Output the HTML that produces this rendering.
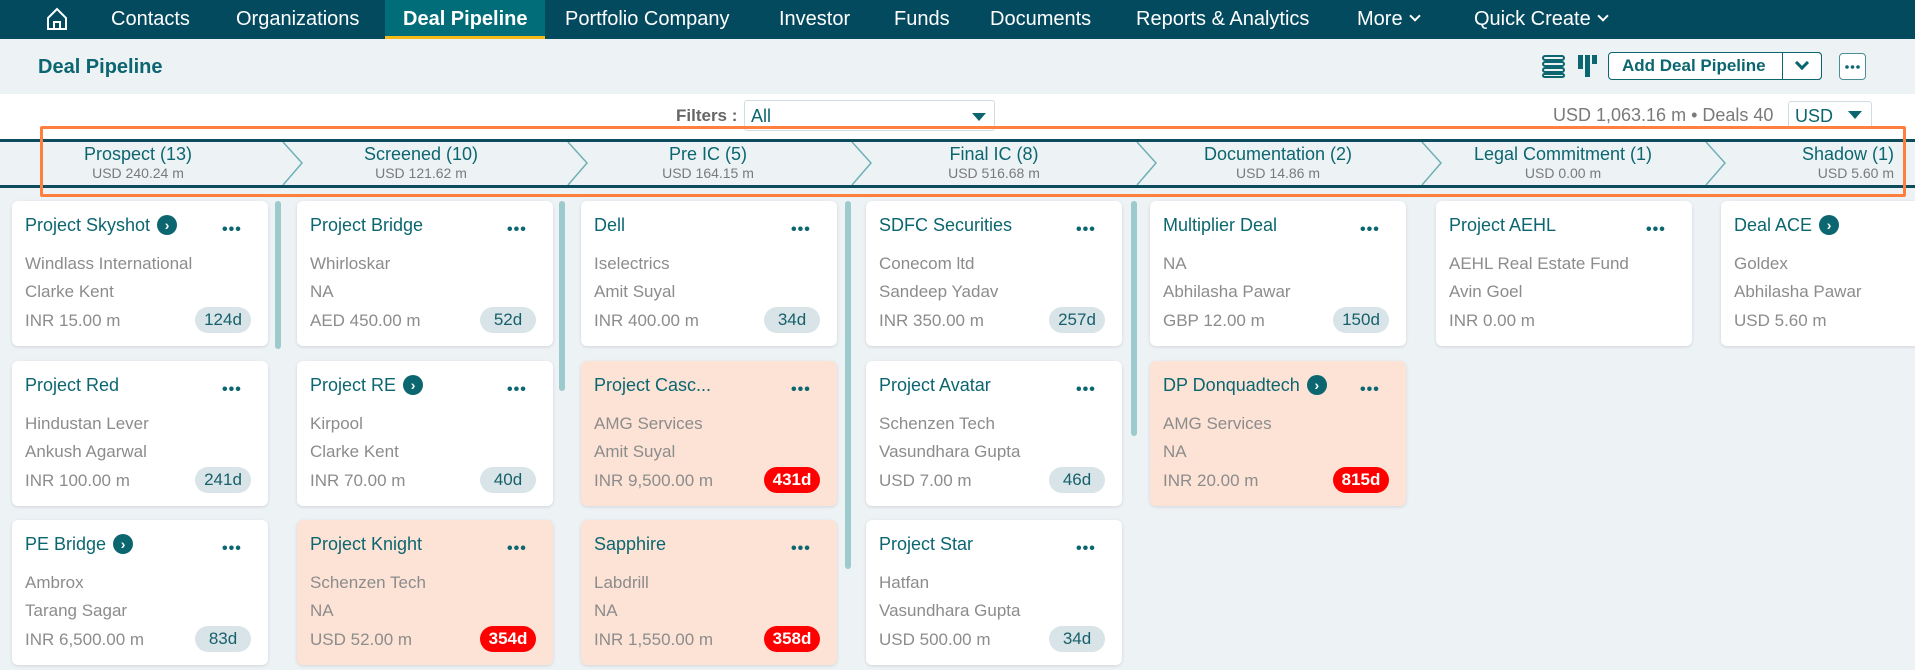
<!DOCTYPE html>
<html><head><meta charset="utf-8">
<style>
*{box-sizing:border-box;margin:0;padding:0}
body{width:1915px;height:670px;overflow:hidden;background:#edf2f5;font-family:"Liberation Sans",sans-serif;position:relative}
.a{position:absolute;white-space:nowrap}
.nav{left:0;top:0;width:1915px;height:39px;background:#034a5f}
.ni{top:8px;color:#fff;font-size:20px}
.sub{left:0;top:39px;width:1915px;height:55px;background:#edf2f5}
.wh{left:0;top:94px;width:1915px;height:45px;background:#fff}
.bar{left:0;top:139px;width:1915px;height:49px;background:#edf2f5;border-top:3px solid #0d4c5c;border-bottom:3px solid #0d4c5c}
.st{top:144px;text-align:center;width:280px}
.st b{display:block;font-weight:normal;color:#0b6670;font-size:18px;line-height:20px}
.st i{display:block;font-style:normal;color:#7a7a7a;font-size:14px;line-height:18px}
.card{position:absolute;width:256px;height:145px;background:#fff;border-radius:6px;box-shadow:0 1px 3px rgba(0,0,0,.12);overflow:hidden}
.card.hl{background:#fde3d6}
.card .t{position:absolute;left:13px;top:14px;font-size:18px;color:#0b6670;white-space:nowrap}
.go{display:inline-block;width:20px;height:20px;border-radius:50%;background:#0b6670;color:#fff;font-size:14px;line-height:20px;text-align:center;vertical-align:1px;margin-left:7px;font-weight:bold}
.card .d{position:absolute;left:210px;top:20px;color:#0b6670;font-size:16px;letter-spacing:1px;font-weight:bold}
.card .l{position:absolute;left:13px;font-size:17px;color:#8c8c8c;white-space:nowrap}
.bd{position:absolute;left:183px;top:106px;width:56px;height:26px;border-radius:13px;background:#d8e4e8;color:#17606b;font-size:17px;text-align:center;line-height:26px}
.bd.r{background:#f00;color:#fff;font-weight:bold}
.sb{position:absolute;width:6px;border-radius:3px;background:#9ccacd}
.chev{display:inline-block;width:8px;height:8px;border-right:2.5px solid #fff;border-bottom:2.5px solid #fff;transform:rotate(45deg);vertical-align:5px;margin-left:8px}
</style></head><body>
<div class="a nav"></div>
<div class="a" style="left:385px;top:0;width:160px;height:39px;background:#006d78;border-bottom:3px solid #f6b91a"></div>
<svg class="a" style="left:46px;top:7px" width="22" height="24" viewBox="0 0 22 24"><path d="M2 11 L11 2 L20 11 L20 22 L2 22 Z" fill="none" stroke="#fff" stroke-width="2"/><path d="M8 22 V15 H14 V22" fill="none" stroke="#fff" stroke-width="2"/></svg>
<div class="a ni" style="left:111px">Contacts</div>
<div class="a ni" style="left:236px">Organizations</div>
<div class="a ni" style="left:403px;font-weight:bold">Deal Pipeline</div>
<div class="a ni" style="left:565px">Portfolio Company</div>
<div class="a ni" style="left:779px">Investor</div>
<div class="a ni" style="left:894px">Funds</div>
<div class="a ni" style="left:990px">Documents</div>
<div class="a ni" style="left:1136px">Reports &amp; Analytics</div>
<div class="a ni" style="left:1357px">More<span class="chev"></span></div>
<div class="a ni" style="left:1474px">Quick Create<span class="chev"></span></div>

<div class="a sub"></div>
<div class="a" style="left:38px;top:56px;font-size:20px;font-weight:bold;color:#0b6670">Deal Pipeline</div>
<svg class="a" style="left:1542px;top:54px" width="24" height="24"><g fill="none" stroke="#0b6670" stroke-width="2"><rect x="1" y="2" width="21" height="4" rx="2"/><rect x="1" y="8" width="21" height="4" rx="2"/><rect x="1" y="14" width="21" height="4" rx="2"/><rect x="1" y="20" width="21" height="3" rx="1.5"/></g></svg>
<svg class="a" style="left:1578px;top:54px" width="22" height="24"><g fill="#0b6670"><rect x="0" y="1" width="5" height="14"/><rect x="7" y="1" width="5" height="22"/><rect x="14" y="1" width="5" height="9"/></g></svg>
<div class="a" style="left:1608px;top:52px;width:214px;height:28px;border:1.5px solid #0b6670;border-radius:4px;background:#fff;font-weight:bold;color:#0b6670;font-size:17px;line-height:25px;padding-left:13px">Add Deal Pipeline</div>
<div class="a" style="left:1782px;top:52px;width:40px;height:28px;border:1.5px solid #0b6670;border-radius:0 4px 4px 0;background:#fff"></div>
<div class="a" style="left:1797px;top:58px;width:10px;height:10px;border-right:3px solid #0b6670;border-bottom:3px solid #0b6670;transform:rotate(45deg)"></div>
<div class="a" style="left:1839px;top:53px;width:27px;height:27px;border:1.5px solid #4a8f97;border-radius:4px;background:#fff"></div>
<svg class="a" style="left:1839px;top:53px" width="27" height="27"><g fill="#0b6670"><circle cx="8" cy="14" r="1.8"/><circle cx="13.5" cy="14" r="1.8"/><circle cx="19" cy="14" r="1.8"/></g></svg>

<div class="a wh"></div>
<div class="a" style="left:676px;top:106px;font-size:17px;font-weight:bold;color:#666">Filters :</div>
<div class="a" style="left:744px;top:100px;width:251px;height:31px;border:1px solid #cfdde2;border-radius:3px;background:#fff;font-size:18px;color:#0b6670;padding:5px 0 0 6px">All</div>
<div class="a" style="left:972px;top:113px;width:0;height:0;border-left:7px solid transparent;border-right:7px solid transparent;border-top:8px solid #0b6670"></div>
<div class="a" style="left:1553px;top:105px;font-size:18px;color:#7a7a7a">USD 1,063.16 m • Deals 40</div>
<div class="a" style="left:1788px;top:101px;width:84px;height:28px;border:1px solid #cfdde2;border-radius:3px;background:#fff;font-size:18px;color:#0b6670;padding:4px 0 0 6px">USD</div>
<div class="a" style="left:1848px;top:111px;width:0;height:0;border-left:7px solid transparent;border-right:7px solid transparent;border-top:8px solid #0b6670"></div>

<div class="a bar"></div>
<svg class="a" style="left:0;top:142px" width="1915" height="43"><g fill="none" stroke="#6fb0b6" stroke-width="1.5">
<path d="M283 0 L302 21 L283 43"/><path d="M568 0 L587 21 L568 43"/><path d="M852 0 L871 21 L852 43"/><path d="M1137 0 L1156 21 L1137 43"/><path d="M1422 0 L1441 21 L1422 43"/><path d="M1706 0 L1725 21 L1706 43"/></g></svg>
<div class="a st" style="left:-2px"><b>Prospect (13)</b><i>USD 240.24 m</i></div>
<div class="a st" style="left:281px"><b>Screened (10)</b><i>USD 121.62 m</i></div>
<div class="a st" style="left:568px"><b>Pre IC (5)</b><i>USD 164.15 m</i></div>
<div class="a st" style="left:854px"><b>Final IC (8)</b><i>USD 516.68 m</i></div>
<div class="a st" style="left:1138px"><b>Documentation (2)</b><i>USD 14.86 m</i></div>
<div class="a st" style="left:1423px"><b>Legal Commitment (1)</b><i>USD 0.00 m</i></div>
<div class="a st" style="left:1614px;text-align:right;width:280px"><b>Shadow (1)</b><i>USD 5.60 m</i></div>
<div class="a" style="left:40px;top:126px;width:1866px;height:71px;border:3px solid #ff7f3f;border-radius:2px"></div>

<div class="sb" style="left:275px;top:201px;height:148px"></div>
<div class="sb" style="left:559px;top:201px;height:190px"></div>
<div class="sb" style="left:845px;top:201px;height:368px"></div>
<div class="sb" style="left:1131px;top:201px;height:235px"></div>

<!-- col0 -->
<div class="card" style="left:12px;top:201px"><div class="t">Project Skyshot<span class="go">›</span></div><div class="d">•••</div><div class="l" style="top:53px">Windlass International</div><div class="l" style="top:81px">Clarke Kent</div><div class="l" style="top:110px">INR 15.00 m</div><div class="bd">124d</div></div>
<div class="card" style="left:12px;top:361px"><div class="t">Project Red</div><div class="d">•••</div><div class="l" style="top:53px">Hindustan Lever</div><div class="l" style="top:81px">Ankush Agarwal</div><div class="l" style="top:110px">INR 100.00 m</div><div class="bd">241d</div></div>
<div class="card" style="left:12px;top:520px"><div class="t">PE Bridge<span class="go">›</span></div><div class="d">•••</div><div class="l" style="top:53px">Ambrox</div><div class="l" style="top:81px">Tarang Sagar</div><div class="l" style="top:110px">INR 6,500.00 m</div><div class="bd">83d</div></div>
<!-- col1 -->
<div class="card" style="left:297px;top:201px"><div class="t">Project Bridge</div><div class="d">•••</div><div class="l" style="top:53px">Whirloskar</div><div class="l" style="top:81px">NA</div><div class="l" style="top:110px">AED 450.00 m</div><div class="bd">52d</div></div>
<div class="card" style="left:297px;top:361px"><div class="t">Project RE<span class="go">›</span></div><div class="d">•••</div><div class="l" style="top:53px">Kirpool</div><div class="l" style="top:81px">Clarke Kent</div><div class="l" style="top:110px">INR 70.00 m</div><div class="bd">40d</div></div>
<div class="card hl" style="left:297px;top:520px"><div class="t">Project Knight</div><div class="d">•••</div><div class="l" style="top:53px">Schenzen Tech</div><div class="l" style="top:81px">NA</div><div class="l" style="top:110px">USD 52.00 m</div><div class="bd r">354d</div></div>
<!-- col2 -->
<div class="card" style="left:581px;top:201px"><div class="t">Dell</div><div class="d">•••</div><div class="l" style="top:53px">Iselectrics</div><div class="l" style="top:81px">Amit Suyal</div><div class="l" style="top:110px">INR 400.00 m</div><div class="bd">34d</div></div>
<div class="card hl" style="left:581px;top:361px"><div class="t">Project Casc...</div><div class="d">•••</div><div class="l" style="top:53px">AMG Services</div><div class="l" style="top:81px">Amit Suyal</div><div class="l" style="top:110px">INR 9,500.00 m</div><div class="bd r">431d</div></div>
<div class="card hl" style="left:581px;top:520px"><div class="t">Sapphire</div><div class="d">•••</div><div class="l" style="top:53px">Labdrill</div><div class="l" style="top:81px">NA</div><div class="l" style="top:110px">INR 1,550.00 m</div><div class="bd r">358d</div></div>
<!-- col3 -->
<div class="card" style="left:866px;top:201px"><div class="t">SDFC Securities</div><div class="d">•••</div><div class="l" style="top:53px">Conecom ltd</div><div class="l" style="top:81px">Sandeep Yadav</div><div class="l" style="top:110px">INR 350.00 m</div><div class="bd">257d</div></div>
<div class="card" style="left:866px;top:361px"><div class="t">Project Avatar</div><div class="d">•••</div><div class="l" style="top:53px">Schenzen Tech</div><div class="l" style="top:81px">Vasundhara Gupta</div><div class="l" style="top:110px">USD 7.00 m</div><div class="bd">46d</div></div>
<div class="card" style="left:866px;top:520px"><div class="t">Project Star</div><div class="d">•••</div><div class="l" style="top:53px">Hatfan</div><div class="l" style="top:81px">Vasundhara Gupta</div><div class="l" style="top:110px">USD 500.00 m</div><div class="bd">34d</div></div>
<!-- col4 -->
<div class="card" style="left:1150px;top:201px"><div class="t">Multiplier Deal</div><div class="d">•••</div><div class="l" style="top:53px">NA</div><div class="l" style="top:81px">Abhilasha Pawar</div><div class="l" style="top:110px">GBP 12.00 m</div><div class="bd">150d</div></div>
<div class="card hl" style="left:1150px;top:361px"><div class="t">DP Donquadtech<span class="go">›</span></div><div class="d">•••</div><div class="l" style="top:53px">AMG Services</div><div class="l" style="top:81px">NA</div><div class="l" style="top:110px">INR 20.00 m</div><div class="bd r">815d</div></div>
<!-- col5 -->
<div class="card" style="left:1436px;top:201px"><div class="t">Project AEHL</div><div class="d">•••</div><div class="l" style="top:53px">AEHL Real Estate Fund</div><div class="l" style="top:81px">Avin Goel</div><div class="l" style="top:110px">INR 0.00 m</div></div>
<!-- col6 -->
<div class="card" style="left:1721px;top:201px"><div class="t">Deal ACE<span class="go">›</span></div><div class="l" style="top:53px">Goldex</div><div class="l" style="top:81px">Abhilasha Pawar</div><div class="l" style="top:110px">USD 5.60 m</div></div>
</body></html>
